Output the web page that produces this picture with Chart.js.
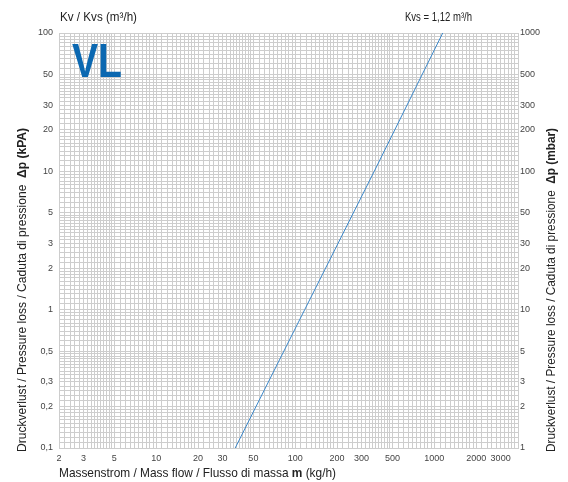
<!DOCTYPE html>
<html>
<head>
<meta charset="utf-8">
<script src="https://cdn.jsdelivr.net/npm/chart.js@4.4.1/dist/chart.umd.min.js"></script>
<style>
  html, body { margin: 0; padding: 0; background: #fff; }
  #wrap { width: 568px; height: 482px; }
</style>
</head>
<body>
<div id="wrap"><canvas id="c" width="568" height="482"></canvas></div>
<script>
/* VL Druckverlust-Diagramm: Massenstrom vs. Δp (log-log) */

// Kennlinie
const flowKgH = [37, 117, 370, 1150];
const dpKPa = [0.1, 1, 10, 100];

// Achsenbeschriftungen
const xLabels = [2, 3, 5, 10, 20, 30, 50, 100, 200, 300, 500, 1000, 2000, 3000];
const yLabels = [0.1, 0.2, 0.3, 0.5, 1, 2, 3, 5, 10, 20, 30, 50, 100];
const y2Labels = [1, 2, 3, 5, 10, 20, 30, 50, 100, 200, 300, 500, 1000];

const X_MIN = 2, X_MAX = 4000;
const Y_MIN = 0.1, Y_MAX = 100;

const FONT = "'Liberation Sans', Arial, sans-serif";
const GRID = "#cdcdcd";

// Logpapier-Raster: 1-2 in 0,1; 2-5 in 0,2; 5-10 in 0,5
function logGrid(min, max) {
  const out = [];
  for (let d = 0.01; d <= 10000; d *= 10) {
    const steps = [];
    for (let i = 10; i < 20; i++) steps.push(i);
    for (let i = 20; i < 50; i += 2) steps.push(i);
    for (let i = 50; i < 100; i += 5) steps.push(i);
    steps.forEach((s) => {
      const v = Number(((s / 10) * d).toPrecision(6));
      if (v >= min * 0.999 && v <= max * 1.001) out.push(v);
    });
  }
  return out;
}

function hasLabel(list, v) {
  return list.some((l) => Math.abs(l - v) / l < 1e-6);
}

function fmt(v) {
  return String(v).replace(".", ",");
}

// Text mit gemischter Schrift auf Zielbreite gestaucht zeichnen
function drawParts(ctx, parts, x, y, width, size, color) {
  ctx.save();
  let total = 0;
  parts.forEach((p) => {
    ctx.font = `${p.bold ? "bold " : ""}${size}px ${FONT}`;
    p.w = ctx.measureText(p.t).width;
    total += p.w;
  });
  ctx.translate(x, y);
  ctx.scale(width / total, 1);
  ctx.fillStyle = color;
  ctx.textBaseline = "middle";
  ctx.textAlign = "left";
  let cx = 0;
  parts.forEach((p) => {
    ctx.font = `${p.bold ? "bold " : ""}${size}px ${FONT}`;
    ctx.fillText(p.t, cx, 0);
    cx += p.w;
  });
  ctx.restore();
}

const textPlugin = {
  id: "texts",
  afterDraw(chart) {
    const ctx = chart.ctx;
    drawParts(ctx, [{ t: "Kv / Kvs (m³/h)" }], 60, 17, 77, 13, "#222");
    drawParts(ctx, [{ t: "Kvs = 1,12 m³/h" }], 405, 17, 67, 13, "#222");

    // Logo
    ctx.save();
    ctx.font = `bold 48px ${FONT}`;
    const w = ctx.measureText("VL").width;
    ctx.translate(72, 77);
    ctx.scale(50 / w, 1);
    ctx.fillStyle = "#0b68b1";
    ctx.textBaseline = "alphabetic";
    ctx.fillText("VL", 0, 0);
    ctx.restore();

    drawParts(ctx, [
      { t: "Massenstrom / Mass flow / Flusso di massa " },
      { t: "m", bold: true },
      { t: " (kg/h)" },
    ], 59, 473, 277, 13, "#222");

    ctx.save();
    ctx.translate(22, 452);
    ctx.rotate(-Math.PI / 2);
    drawParts(ctx, [
      { t: "Druckverlust / Pressure loss / Caduta di pressione  " },
      { t: "Δp (kPA)", bold: true },
    ], 0, 0, 324, 13, "#222");
    ctx.restore();

    ctx.save();
    ctx.translate(551, 452);
    ctx.rotate(-Math.PI / 2);
    drawParts(ctx, [
      { t: "Druckverlust / Pressure loss / Caduta di pressione  " },
      { t: "Δp (mbar)", bold: true },
    ], 0, 0, 324, 13, "#222");
    ctx.restore();
  },
};

const tickFont = { family: FONT, size: 9 };

new Chart(document.getElementById("c"), {
  type: "scatter",
  data: {
    datasets: [
      {
        data: flowKgH.map((x, i) => ({ x, y: dpKPa[i] })),
        showLine: true,
        borderColor: "#3b87c9",
        borderWidth: 1,
        pointRadius: 0,
        tension: 0,
      },
    ],
  },
  options: {
    responsive: false,
    animation: false,
    layout: { padding: { top: 33, left: 0, right: 0, bottom: 0 } },
    plugins: { legend: { display: false }, tooltip: { enabled: false } },
    scales: {
      x: {
        type: "logarithmic",
        min: X_MIN,
        max: X_MAX,
        afterBuildTicks: (s) => {
          s.ticks = logGrid(X_MIN, X_MAX).map((value) => ({ value }));
        },
        afterFit: (s) => { s.height = 34; },
        grid: { color: GRID, lineWidth: 1, drawTicks: false },
        border: { color: GRID },
        ticks: {
          autoSkip: false,
          maxRotation: 0,
          padding: 5,
          font: tickFont,
          color: "#444",
          callback: (v) => (hasLabel(xLabels, v) ? String(v) : ""),
        },
      },
      y: {
        type: "logarithmic",
        position: "left",
        min: Y_MIN,
        max: Y_MAX,
        afterBuildTicks: (s) => {
          s.ticks = logGrid(Y_MIN, Y_MAX).map((value) => ({ value }));
        },
        afterFit: (s) => { s.width = 59; },
        grid: { color: GRID, lineWidth: 1, drawTicks: false },
        border: { color: GRID },
        ticks: {
          autoSkip: false,
          padding: 6,
          font: tickFont,
          color: "#444",
          callback: (v) => (hasLabel(yLabels, v) ? fmt(v) : ""),
        },
      },
      y2: {
        type: "logarithmic",
        position: "right",
        min: 1,
        max: 1000,
        afterBuildTicks: (s) => {
          s.ticks = y2Labels.map((value) => ({ value }));
        },
        afterFit: (s) => { s.width = 50; },
        grid: { display: false, drawTicks: false },
        border: { display: false },
        ticks: {
          autoSkip: false,
          padding: 2,
          font: tickFont,
          color: "#444",
          callback: (v) => String(v),
        },
      },
    },
  },
  plugins: [textPlugin],
});
</script>
</body>
</html>
